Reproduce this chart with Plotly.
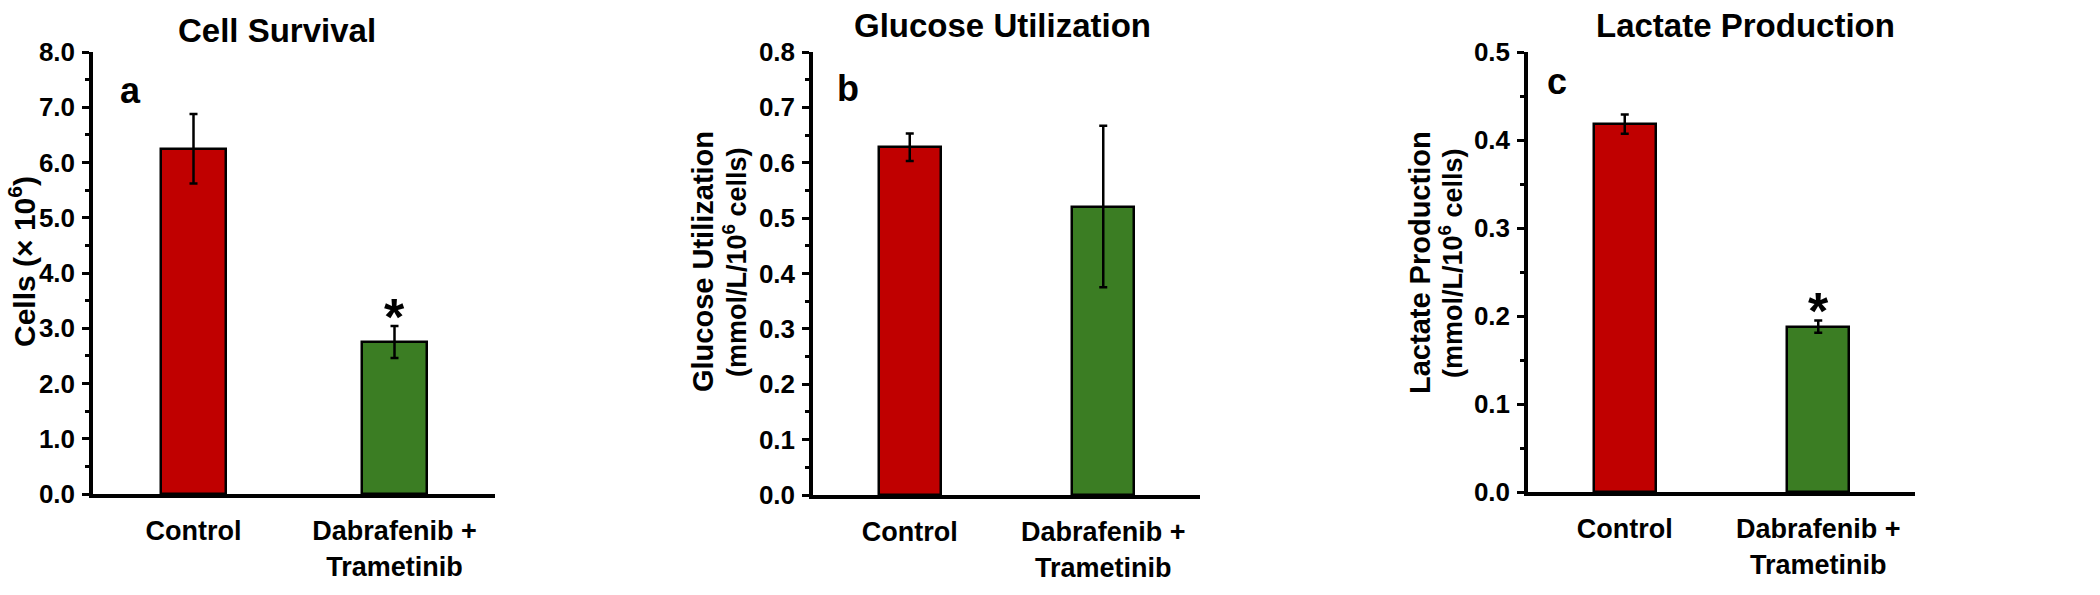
import plotly.graph_objects as go

W, H = 2100, 595

categories = ["Control", "Dabrafenib +<br>Trametinib"]
bar_colors = ["#C00000", "#3B7D23"]

cells_mean = [6.25, 2.75]
cells_err = [0.63, 0.29]

glucose_mean = [0.628, 0.521]
glucose_err = [0.025, 0.146]

lactate_mean = [0.418, 0.188]
lactate_err = [0.011, 0.007]

titles = ["Cell Survival", "Glucose Utilization", "Lactate Production"]
letters = ["a", "b", "c"]
ytitle_lines = [
    ["Cells (× 10<sup>6</sup>)"],
    ["Glucose Utilization", "(mmol/L/10<sup>6</sup> cells)"],
    ["Lactate Production", "(mmol/L/10<sup>6</sup> cells)"],
]

FONT = "Liberation Sans, Arial, sans-serif"

# pixel layout of plot areas (left, right, top, bottom)
areas = [(93, 495, 52, 494), (813, 1200, 52, 495), (1528, 1915, 52, 492)]
yranges = [(0, 8), (0, 0.8), (0, 0.5)]
ydticks = [1.0, 0.1, 0.1]
yminor = [0.5, 0.05, 0.05]

fig = go.Figure()
datasets = [(cells_mean, cells_err), (glucose_mean, glucose_err), (lactate_mean, lactate_err)]

for i, (mean, err) in enumerate(datasets):
    sfx = "" if i == 0 else str(i + 1)
    fig.add_trace(go.Bar(
        x=[0, 1], y=mean, width=0.32,
        marker=dict(color=bar_colors, line=dict(color="black", width=2.5)),
        error_y=dict(type="data", array=err, visible=True, color="black", thickness=2.5, width=4),
        xaxis="x" + sfx, yaxis="y" + sfx, showlegend=False,
    ))
    l, r, t, b = areas[i]
    fig.layout["xaxis" + sfx] = dict(
        domain=[l / W, r / W], range=[-0.5, 1.5], anchor="y" + sfx,
        tickmode="array", tickvals=[0, 1], ticktext=categories,
        showline=True, linecolor="black", linewidth=4, ticks="",
        showgrid=False, zeroline=False, fixedrange=True, automargin=False,
        tickfont=dict(family=FONT, size=27, color="black", weight="bold"),
        ticklabelstandoff=10,
    )
    fig.layout["yaxis" + sfx] = dict(
        domain=[1 - b / H, 1 - t / H], range=list(yranges[i]), anchor="x" + sfx,
        dtick=ydticks[i], tick0=0, tickformat=".1f",
        showline=True, linecolor="black", linewidth=3.5,
        ticks="outside", ticklen=7, tickwidth=3, tickcolor="black",
        minor=dict(ticks="outside", ticklen=4, tickwidth=3, tickcolor="black", dtick=yminor[i]),
        showgrid=False, zeroline=False, fixedrange=True, automargin=False,
        tickfont=dict(family=FONT, size=26, color="black", weight="bold"),
        ticklabelstandoff=2,
    )

ann = []
title_pos = [(277, 30), (1002, 26), (1745, 26)]
for (x, y), t in zip(title_pos, titles):
    ann.append(dict(x=x / W, y=1 - y / H, xref="paper", yref="paper", text=t, showarrow=False,
                    xanchor="center", yanchor="middle",
                    font=dict(family=FONT, size=33, color="black", weight="bold")))
letter_pos = [(130, 90), (848, 88), (1557, 82)]
for (x, y), t in zip(letter_pos, letters):
    ann.append(dict(x=x / W, y=1 - y / H, xref="paper", yref="paper", text=t, showarrow=False,
                    xanchor="center", yanchor="middle",
                    font=dict(family=FONT, size=36, color="black", weight="bold")))

# y axis titles, one annotation per line
ytitle_x = [[22], [703, 735], [1420, 1451]]
ytitle_size = [[30], [29, 27], [29, 27]]
ytitle_y = [262, 262, 263]
for lines, xs, sizes, yc in zip(ytitle_lines, ytitle_x, ytitle_size, ytitle_y):
    for txt, x, s in zip(lines, xs, sizes):
        ann.append(dict(x=x / W, y=1 - yc / H, xref="paper", yref="paper", text=txt,
                        textangle=-90, showarrow=False, xanchor="center", yanchor="middle",
                        font=dict(family=FONT, size=s, color="black", weight="bold")))

# significance stars
ann.append(dict(x=1, y=cells_mean[1] + cells_err[1], xref="x", yref="y", text="*", showarrow=False,
                xanchor="center", yanchor="bottom", yshift=-22,
                font=dict(family=FONT, size=52, color="black", weight="bold")))
ann.append(dict(x=1, y=lactate_mean[1] + lactate_err[1], xref="x3", yref="y3", text="*", showarrow=False,
                xanchor="center", yanchor="bottom", yshift=-22,
                font=dict(family=FONT, size=52, color="black", weight="bold")))

fig.update_layout(
    width=W, height=H, margin=dict(l=0, r=0, t=0, b=0, autoexpand=False),
    paper_bgcolor="white", plot_bgcolor="white",
    annotations=ann, bargap=0,
)

fig.write_html("out.html", config={"displayModeBar": False})
